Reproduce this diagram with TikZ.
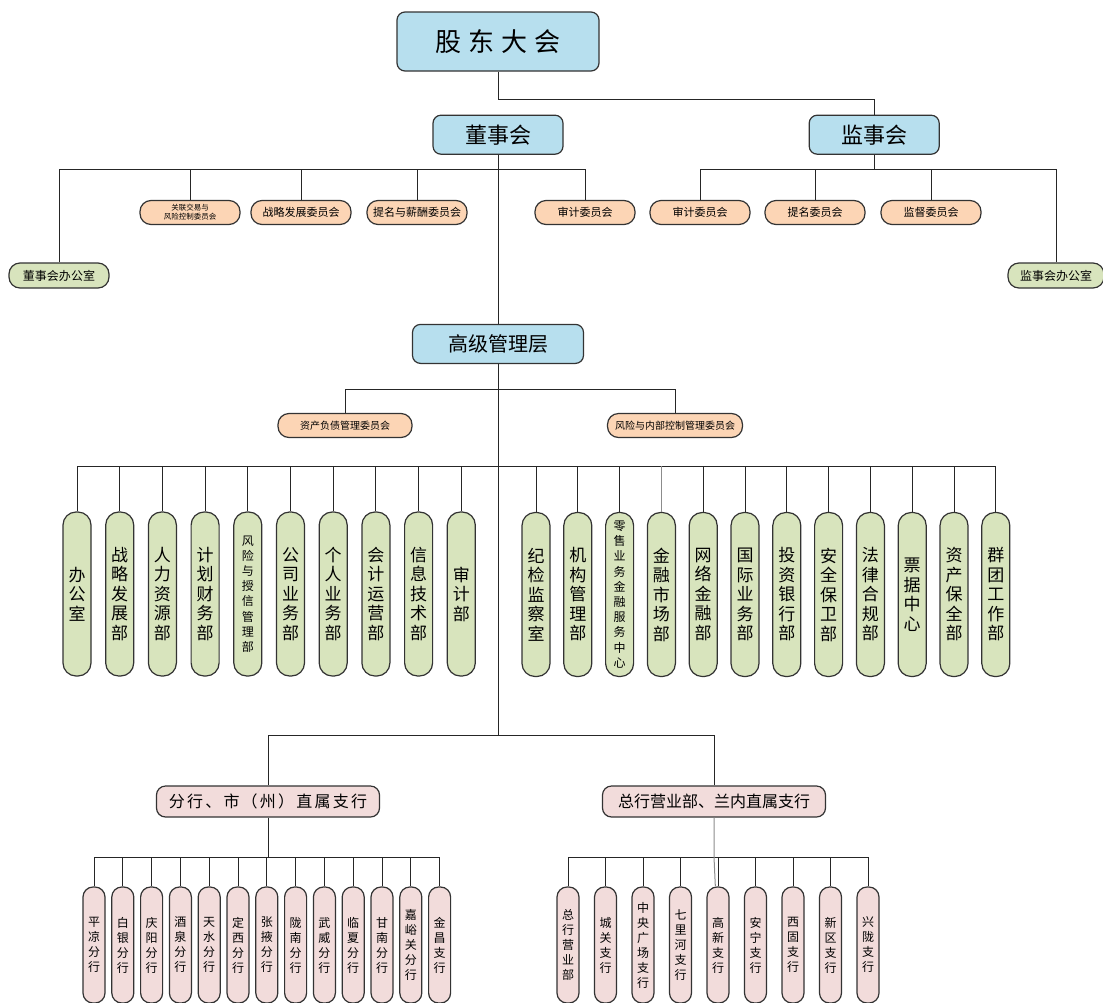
\documentclass[tikz,border=0pt]{standalone}
\usepackage{fontspec}
\setmainfont{Noto Sans CJK SC}
\usepackage{tikz}
\usetikzlibrary{positioning}
\definecolor{boxblue}{HTML}{B7DFEE}
\definecolor{boxpeach}{HTML}{FCD5B5}
\definecolor{boxgreen}{HTML}{D8E4BD}
\definecolor{boxpink}{HTML}{F2DCDB}
\definecolor{linegray}{HTML}{8C8C8C}

\begin{document}
\begin{tikzpicture}[x=1pt, y=-1pt,
  lead/.style={draw=black!80, line width=1.2pt, fill=boxblue, rounded corners=8pt, inner sep=0pt, align=center},
  cmte/.style={draw=black!80, line width=1.2pt, fill=boxpeach, rounded corners=11pt, minimum width=100pt, minimum height=24pt, inner sep=0pt, align=center, font=\fontsize{11}{13}\selectfont},
  office/.style={cmte, fill=boxgreen, minimum height=25pt, font=\fontsize{12}{14}\selectfont},
  dept/.style={draw=black!80, line width=1.2pt, fill=boxgreen, rounded corners=13pt, minimum width=28pt, minimum height=164pt, inner sep=0pt, align=center, font=\fontsize{17}{19.5}\selectfont},
  smalldept/.style={dept, font=\fontsize{12}{15.2}\selectfont},
  group/.style={draw=black!80, line width=1.2pt, fill=boxpink, rounded corners=9pt, minimum width=223pt, minimum height=31pt, inner sep=0pt, font=\fontsize{16}{18}\selectfont},
  branch/.style={draw=black!80, line width=1.2pt, fill=boxpink, rounded corners=10pt, minimum width=22pt, minimum height=116pt, inner sep=0pt, align=center, font=\fontsize{12}{15}\selectfont},
  link/.style={draw=black!85, line width=1pt}]
\useasboundingbox (0,0) rectangle (1103,1002);
\clip (0,0) rectangle (1103,1002);

% top levels
\node (gudong) [lead, minimum width=202pt, minimum height=59pt, font=\fontsize{26}{30}\selectfont] at (498,41.5) {股\hspace{7pt}东\hspace{7pt}大\hspace{7pt}会};
\node (dongshi) [lead, minimum width=130pt, minimum height=39pt, font=\fontsize{22}{26}\selectfont, below=43pt of gudong] {董事会};
\node (jianshi) [lead, minimum width=130pt, minimum height=39pt, font=\fontsize{22}{26}\selectfont, right=245pt of dongshi] {监事会};
\node (gaoguan) [lead, minimum width=171pt, minimum height=39pt, font=\fontsize{20}{24}\selectfont, below=169pt of dongshi] {高级管理层};

% committees
\node (guanlian) [cmte, font=\fontsize{7.5}{9}\selectfont] at (190,212.5) {关联交易与\\风险控制委员会};
\node (zhanlve) [cmte] at (301,212.5) {战略发展委员会};
\node (timing) [cmte] at (417,212.5) {提名与薪酬委员会};
\node (shenji) [cmte] at (585,212.5) {审计委员会};
\node (jsshenji) [cmte] at (700,212.5) {审计委员会};
\node (jstiming) [cmte] at (815,212.5) {提名委员会};
\node (jiandu) [cmte] at (931,212.5) {监督委员会};
\node (dsbgs) [office] at (59,275.5) {董事会办公室};
\node (jsbgs) [office, minimum width=96pt] at (1056,275.5) {监事会办公室};
\node (zichan) [cmte, minimum width=134pt, font=\fontsize{10}{12}\selectfont] at (345,425.5) {资产负债管理委员会};
\node (fengxian) [cmte, minimum width=135pt, font=\fontsize{10}{12}\selectfont] at (675,425.5) {风险与内部控制管理委员会};

% departments
\node (d1) [dept] at (77,594) {办\\公\\室};
\node (d2) [dept, right=13.5pt of d1] {战\\略\\发\\展\\部};
\node (d3) [dept, right=13.5pt of d2] {人\\力\\资\\源\\部};
\node (d4) [dept, right=13.5pt of d3] {计\\划\\财\\务\\部};
\node (d5) [smalldept, right=13.5pt of d4] {风\\险\\与\\授\\信\\管\\理\\部};
\node (d6) [dept, right=13.5pt of d5] {公\\司\\业\\务\\部};
\node (d7) [dept, right=13.5pt of d6] {个\\人\\业\\务\\部};
\node (d8) [dept, right=13.5pt of d7] {会\\计\\运\\营\\部};
\node (d9) [dept, right=13.5pt of d8] {信\\息\\技\\术\\部};
\node (d10) [dept, right=13.5pt of d9] {审\\计\\部};
\node (r1) [dept] at (536,594.5) {纪\\检\\监\\察\\室};
\node (r2) [dept, right=12.6pt of r1] {机\\构\\管\\理\\部};
\node (r3) [smalldept, right=12.6pt of r2] {零\\售\\业\\务\\金\\融\\服\\务\\中\\心};
\node (r4) [dept, right=12.6pt of r3] {金\\融\\市\\场\\部};
\node (r5) [dept, right=12.6pt of r4] {网\\络\\金\\融\\部};
\node (r6) [dept, right=12.6pt of r5] {国\\际\\业\\务\\部};
\node (r7) [dept, right=12.6pt of r6] {投\\资\\银\\行\\部};
\node (r8) [dept, right=12.6pt of r7] {安\\全\\保\\卫\\部};
\node (r9) [dept, right=12.6pt of r8] {法\\律\\合\\规\\部};
\node (r10) [dept, right=12.6pt of r9] {票\\据\\中\\心};
\node (r11) [dept, right=12.6pt of r10] {资\\产\\保\\全\\部};
\node (r12) [dept, right=12.6pt of r11] {群\\团\\工\\作\\部};

% branch groups
\node (fenhang) [group, font=\fontsize{16}{18}\selectfont\addfontfeature{LetterSpace=14}] at (268,801.5) {分行、市（州）直属支行};
\node (zonghang) [group] at (714,801.5) {总行营业部、兰内直属支行};

% branches
\node (b1) [branch] at (94,945) {平\\凉\\分\\行};
\node (b2) [branch, right=5.6pt of b1] {白\\银\\分\\行};
\node (b3) [branch, right=5.6pt of b2] {庆\\阳\\分\\行};
\node (b4) [branch, right=5.6pt of b3] {酒\\泉\\分\\行};
\node (b5) [branch, right=5.6pt of b4] {天\\水\\分\\行};
\node (b6) [branch, right=5.6pt of b5] {定\\西\\分\\行};
\node (b7) [branch, right=5.6pt of b6] {张\\掖\\分\\行};
\node (b8) [branch, right=5.6pt of b7] {陇\\南\\分\\行};
\node (b9) [branch, right=5.6pt of b8] {武\\威\\分\\行};
\node (b10) [branch, right=5.6pt of b9] {临\\夏\\分\\行};
\node (b11) [branch, right=5.6pt of b10] {甘\\南\\分\\行};
\node (b12) [branch, right=5.6pt of b11] {嘉\\峪\\关\\分\\行};
\node (b13) [branch, right=5.6pt of b12] {金\\昌\\支\\行};
\node (c1) [branch] at (568,945) {总\\行\\营\\业\\部};
\node (c2) [branch, right=14.3pt of c1] {城\\关\\支\\行};
\node (c3) [branch, right=14.3pt of c2] {中\\央\\广\\场\\支\\行};
\node (c4) [branch, right=14.3pt of c3] {七\\里\\河\\支\\行};
\node (c5) [branch, right=14.3pt of c4] {高\\新\\支\\行};
\node (c6) [branch, right=14.3pt of c5] {安\\宁\\支\\行};
\node (c7) [branch, right=14.3pt of c6] {西\\固\\支\\行};
\node (c8) [branch, right=14.3pt of c7] {新\\区\\支\\行};
\node (c9) [branch, right=14.3pt of c8] {兴\\陇\\支\\行};

% bus lines
\coordinate (busgd) at (0,99);
\coordinate (busds) at (0,169);
\coordinate (busgg) at (0,389);
\coordinate (busbm) at (0,466);
\coordinate (busfh) at (0,735.5);
\coordinate (busfz) at (0,857);

\draw[link] (gudong) -- (gudong |- busgd) -| (jianshi);
\draw[link] (dongshi) -- (gaoguan);
\draw[link] (jianshi) -- (jianshi |- busds);
\foreach \n in {dsbgs, guanlian, zhanlve, timing, shenji}
  \draw[link] (\n) |- (dongshi |- busds);
\foreach \n in {jsshenji, jstiming, jiandu, jsbgs}
  \draw[link] (\n) |- (jianshi |- busds);
\foreach \n in {zichan, fengxian}
  \draw[link] (\n) |- (gaoguan |- busgg);
\draw[link] (gaoguan) -- (gaoguan |- busfh);
\foreach \i in {1,...,10}
  \draw[link] (d\i) |- (gaoguan |- busbm);
\foreach \i in {1,...,12}
  \draw[link] (r\i) |- (gaoguan |- busbm);
\draw[link, draw=linegray] (r4) -- (r4 |- busbm);
\foreach \n in {fenhang, zonghang}
  \draw[link] (\n) |- (gaoguan |- busfh);
\draw[link] (fenhang) -- (fenhang |- busfz);
\foreach \i in {1,...,13}
  \draw[link] (b\i) |- (fenhang |- busfz);
\foreach \i in {1,...,9}
  \draw[link] (c\i) |- (zonghang |- busfz);
\draw[link, draw=linegray] (zonghang) -- (zonghang |- busfz) -- (c5);
\end{tikzpicture}
\end{document}
